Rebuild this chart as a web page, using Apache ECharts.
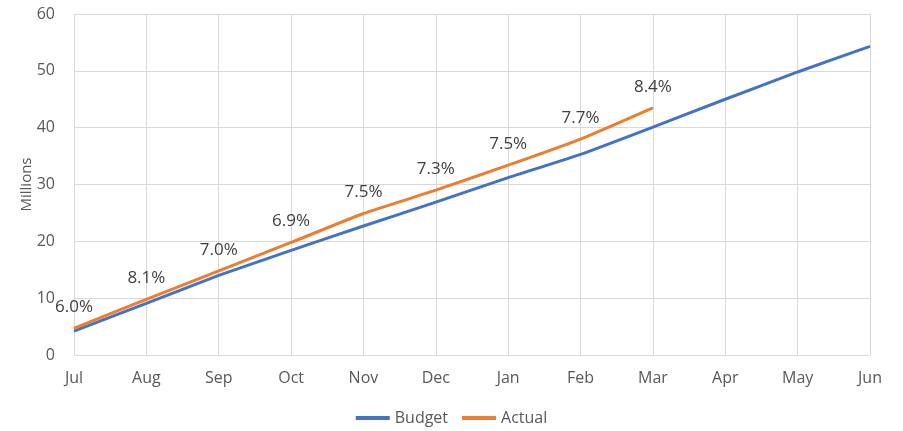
<!DOCTYPE html>
<html>
<head>
<meta charset="utf-8">
<script src="https://cdn.jsdelivr.net/npm/echarts@6/dist/echarts.min.js"></script>
<style>
  html, body { margin: 0; padding: 0; background: #fff; }
  #main { width: 903px; height: 431px; }
</style>
</head>
<body>
<div id="main"></div>
<script>
var months = ['Jul', 'Aug', 'Sep', 'Oct', 'Nov', 'Dec', 'Jan', 'Feb', 'Mar', 'Apr', 'May', 'Jun'];
var budget = [4.2, 9.1, 14.0, 18.4, 22.7, 26.9, 31.2, 35.3, 40.1, 45.0, 49.8, 54.3];
var actual = [4.7, 9.8, 14.8, 19.8, 24.9, 29.0, 33.4, 38.0, 43.5];
var actualLabels = ['6.0%', '8.1%', '7.0%', '6.9%', '7.5%', '7.3%', '7.5%', '7.7%', '8.4%'];

var myChart = echarts.init(document.getElementById('main'));
var font = 'Open Sans';

var option = {
	color: ['#4472c4', '#ed7d31'],
	textStyle: { fontFamily: font },
	legend: {
		data: ['Budget', 'Actual'],
		bottom: 0,
		left: 'center',
		icon: 'rect',
		itemWidth: 34,
		itemHeight: 4,
		itemGap: 14,
		textStyle: { color: '#595959', fontSize: 16, fontFamily: font }
	},
	grid: {
		left: 74,
		right: 33,
		top: 14,
		bottom: 76
	},
	xAxis: {
		type: 'category',
		boundaryGap: false,
		data: months,
		axisLine: { lineStyle: { color: '#d9d9d9' } },
		axisTick: { show: false },
		axisLabel: { color: '#595959', fontSize: 16, margin: 15 },
		splitLine: { show: true, lineStyle: { color: '#d9d9d9' } }
	},
	yAxis: {
		type: 'value',
		min: 0,
		max: 60,
		interval: 10,
		name: 'Millions',
		nameLocation: 'middle',
		nameGap: 40,
		nameMoveOverlap: false,
		nameTextStyle: { color: '#595959', fontSize: 15 },
		axisLine: { show: false },
		axisTick: { show: false },
		axisLabel: { color: '#595959', fontSize: 16, margin: 19 },
		splitLine: { lineStyle: { color: '#d9d9d9' } }
	},
	series: [
		{
			name: 'Budget',
			type: 'line',
			data: budget,
			symbol: 'none',
			smooth: 0.15,
			lineStyle: { width: 3 }
		},
		{
			name: 'Actual',
			type: 'line',
			data: actual,
			symbol: 'circle',
			symbolSize: 1,
			showSymbol: true,
			smooth: 0.15,
			lineStyle: { width: 3 },
			label: {
				show: true,
				position: 'top',
				distance: 12,
				color: '#404040',
				fontSize: 17,
				formatter: function (p) { return actualLabels[p.dataIndex]; }
			}
		}
	]
};
myChart.setOption(option);
window.addEventListener('resize', function () {
	myChart.resize();
});
</script>
</body>
</html>
